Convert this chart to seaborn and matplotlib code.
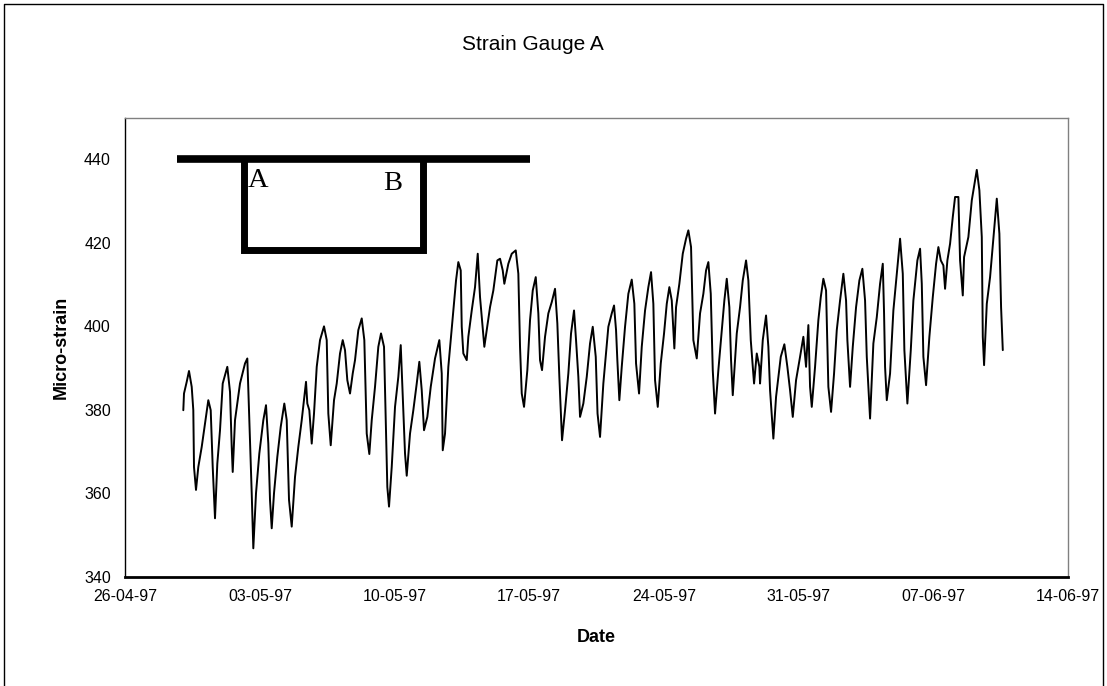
import numpy as np
import pandas as pd
import matplotlib
matplotlib.use("Agg")
import matplotlib.pyplot as plt
import matplotlib.dates as mdates
from matplotlib.lines import Line2D
import seaborn as sns

# ---------------- data ----------------
record_start = "1997-04-26"
elapsed_days = [
    3.016, 3.052, 3.193, 3.312, 3.453, 3.536, 3.572, 3.676, 3.796, 3.973,
    4.144, 4.316, 4.441, 4.545, 4.664, 4.784, 4.924, 5.065, 5.304, 5.444,
    5.533, 5.585, 5.704, 5.964, 6.224, 6.344, 6.448, 6.573, 6.656, 6.796,
    6.968, 7.176, 7.316, 7.436, 7.524, 7.613, 7.732, 7.904, 8.081, 8.268,
    8.393, 8.512, 8.653, 8.824, 8.996, 9.173, 9.396, 9.464, 9.568, 9.693,
    9.812, 9.953, 10.124, 10.332, 10.473, 10.556, 10.681, 10.852, 10.993, 11.164,
    11.305, 11.424, 11.544, 11.684, 11.825, 11.944, 12.116, 12.293, 12.428, 12.553,
    12.688, 12.813, 12.984, 13.156, 13.296, 13.452, 13.556, 13.624, 13.712, 13.853,
    14.024, 14.196, 14.321, 14.425, 14.544, 14.633, 14.804, 14.976, 15.153, 15.288,
    15.413, 15.532, 15.704, 15.881, 16.104, 16.328, 16.453, 16.505, 16.624, 16.796,
    17.025, 17.196, 17.316, 17.441, 17.493, 17.576, 17.753, 17.836, 18.013, 18.184,
    18.325, 18.444, 18.564, 18.668, 18.793, 18.964, 19.136, 19.344, 19.484, 19.625,
    19.708, 19.916, 20.093, 20.301, 20.436, 20.524, 20.613, 20.732, 20.904, 21.044,
    21.185, 21.341, 21.476, 21.564, 21.668, 21.824, 21.996, 22.173, 22.344, 22.464,
    22.568, 22.708, 22.864, 23.036, 23.176, 23.332, 23.436, 23.556, 23.644, 23.816,
    23.993, 24.164, 24.305, 24.461, 24.554, 24.684, 24.856, 24.996, 25.116, 25.293,
    25.412, 25.516, 25.584, 25.688, 25.813, 25.984, 26.156, 26.333, 26.468, 26.556,
    26.712, 26.853, 27.024, 27.196, 27.336, 27.456, 27.544, 27.685, 27.841, 28.012,
    28.153, 28.288, 28.413, 28.548, 28.636, 28.808, 28.985, 29.156, 29.276, 29.416,
    29.536, 29.713, 29.884, 30.056, 30.196, 30.316, 30.441, 30.545, 30.664, 30.836,
    31.013, 31.148, 31.273, 31.408, 31.496, 31.585, 31.793, 31.964, 32.105, 32.276,
    32.396, 32.521, 32.692, 32.833, 32.968, 33.004, 33.145, 33.316, 33.436, 33.524,
    33.696, 33.836, 33.956, 34.081, 34.268, 34.424, 34.564, 34.705, 34.876, 35.084,
    35.256, 35.396, 35.516, 35.604, 35.693, 35.864, 36.036, 36.161, 36.296, 36.436,
    36.556, 36.696, 36.852, 36.993, 37.164, 37.336, 37.476, 37.544, 37.684, 37.825,
    37.996, 38.168, 38.324, 38.464, 38.553, 38.724, 38.896, 39.073, 39.244, 39.385,
    39.452, 39.504, 39.593, 39.764, 39.936, 40.113, 40.284, 40.425, 40.508, 40.664,
    40.841, 40.976, 41.184, 41.324, 41.413, 41.496, 41.636, 41.808, 41.985, 42.156,
    42.276, 42.401, 42.536, 42.624, 42.744, 42.884, 43.025, 43.144, 43.316, 43.404,
    43.545, 43.612, 43.836, 44.013, 44.184, 44.273, 44.408, 44.533, 44.585, 44.652,
    44.793, 44.964, 45.172, 45.313, 45.448, 45.536, 45.625,
]
micro_strain = [
    379.9, 383.9, 386.7, 389.3, 385.5, 379.9, 366.3, 360.8, 366.3, 371.1,
    376.7, 382.3, 379.9, 366.3, 354.0, 367.1, 375.1, 386.3, 390.3, 384.3,
    371.1, 365.1, 377.5, 386.3, 391.1, 392.3, 377.5, 360.0, 346.8, 360.0,
    369.5, 377.5, 381.1, 371.9, 358.4, 351.6, 360.0, 368.7, 375.9, 381.5,
    377.5, 358.4, 352.0, 363.9, 371.1, 377.5, 386.7, 381.5, 379.9, 371.9,
    379.1, 390.3, 396.7, 400.0, 396.7, 379.1, 371.5, 382.3, 386.3, 393.5,
    396.7, 394.3, 387.1, 383.9, 388.7, 391.9, 399.1, 401.9, 396.7, 374.3,
    369.4, 377.5, 385.5, 395.1, 398.3, 395.1, 374.3, 361.5, 356.8, 366.3,
    380.7, 387.9, 395.5, 383.1, 369.5, 364.2, 374.3, 379.9, 386.3, 391.5,
    384.7, 375.1, 378.3, 385.5, 392.3, 396.7, 388.7, 370.3, 374.3, 390.3,
    402.2, 411.0, 415.4, 413.4, 399.9, 393.5, 391.9, 397.5, 403.8, 409.4,
    417.4, 407.0, 400.7, 395.1, 399.1, 404.6, 408.6, 415.8, 416.2, 413.4,
    410.2, 415.0, 417.4, 418.2, 412.6, 395.1, 383.9, 380.7, 389.5, 401.5,
    408.6, 411.8, 403.1, 391.9, 389.5, 397.5, 403.1, 405.8, 409.0, 400.7,
    387.9, 372.7, 379.9, 388.7, 398.3, 403.8, 396.7, 387.9, 378.3, 381.5,
    387.9, 395.9, 399.9, 392.7, 379.1, 373.5, 386.3, 393.5, 399.9, 403.1,
    405.0, 399.1, 391.9, 382.3, 390.3, 399.9, 407.8, 411.2, 405.4, 391.1,
    383.9, 395.1, 403.8, 409.4, 413.0, 405.4, 387.1, 380.7, 391.1, 398.3,
    405.4, 409.4, 406.2, 394.7, 404.6, 410.2, 417.4, 421.0, 423.0, 419.0,
    396.7, 392.3, 403.1, 407.8, 413.4, 415.4, 407.8, 389.5, 379.1, 389.5,
    399.1, 406.2, 411.4, 404.6, 391.9, 383.5, 398.3, 404.6, 411.0, 415.8,
    411.0, 396.7, 386.3, 393.5, 390.3, 386.3, 396.7, 402.6, 395.1, 384.7,
    373.1, 383.1, 387.9, 392.7, 395.7, 390.3, 384.7, 378.3, 387.1, 392.7,
    397.5, 390.3, 400.3, 385.5, 380.7, 390.3, 401.5, 407.0, 411.4, 408.6,
    385.5, 379.5, 388.7, 399.1, 406.2, 412.6, 406.2, 396.7, 385.5, 395.1,
    404.6, 411.0, 413.8, 406.2, 392.7, 377.9, 395.9, 402.2, 410.2, 415.0,
    403.1, 390.3, 382.3, 388.7, 403.8, 412.6, 421.0, 412.6, 394.3, 381.5,
    394.3, 406.2, 415.8, 418.6, 410.2, 392.7, 385.9, 397.5, 407.0, 415.0,
    419.0, 415.8, 414.6, 409.0, 415.8, 419.8, 426.2, 431.0, 431.0, 415.8,
    407.4, 416.6, 421.4, 430.2, 435.0, 437.5, 432.6, 421.4, 397.5, 390.7,
    405.4, 411.8, 423.0, 430.6, 422.2, 404.6, 394.3,
]

x_tick_dates = ["1997-04-26", "1997-05-03", "1997-05-10", "1997-05-17",
                "1997-05-24", "1997-05-31", "1997-06-07", "1997-06-14"]
y_tick_values = [340, 360, 380, 400, 420, 440]
y_limits = [340, 450]

title_text = "Strain Gauge A"
x_label = "Date"
y_label = "Micro-strain"

# sketch of the gauge layout drawn on the chart (days since record_start, micro-strain)
beam_days = [2.67, 21.04]
beam_level = 440
frame_days = [6.19, 6.19, 15.5, 15.5]
frame_levels = [440, 418.3, 418.3, 440]
label_a = ("A", 6.344, 433.5)
label_b = ("B", 13.385, 432.7)

# ---------------- build data frame ----------------
t0 = pd.Timestamp(record_start)
df = pd.DataFrame({
    "Date": t0 + pd.to_timedelta(elapsed_days, unit="D"),
    "Micro-strain": micro_strain,
})

# ---------------- plot ----------------
sns.set_theme(style="white")
plt.rcParams["font.family"] = ["Liberation Sans", "DejaVu Sans"]

W, H = 1107, 686
fig = plt.figure(figsize=(W / 100, H / 100), dpi=100)
ax = fig.add_axes([125.3 / W, 1 - 576.7 / H, (1067.7 - 125.3) / W, (576.7 - 117.7) / H])

sns.lineplot(data=df, x="Date", y="Micro-strain", ax=ax, color="black",
             linewidth=1.4, estimator=None, sort=False)

# gauge sketch
def d2t(d):
    return t0 + pd.to_timedelta(d, unit="D")

ax.plot([d2t(d) for d in beam_days], [beam_level, beam_level], color="black",
        linewidth=5.5, solid_capstyle="butt", zorder=3)
ax.plot([d2t(d) for d in frame_days], frame_levels, color="black",
        linewidth=5.0, solid_joinstyle="miter", solid_capstyle="butt", zorder=3)
for txt, d, v in (label_a, label_b):
    ax.text(d2t(d), v, txt, family=["Liberation Serif", "DejaVu Serif"],
            fontsize=20.5, ha="left", va="baseline", color="black", zorder=4)

# axes formatting
ax.set_xlim(pd.Timestamp(x_tick_dates[0]), pd.Timestamp(x_tick_dates[-1]))
ax.set_ylim(*y_limits)
ax.set_xticks([pd.Timestamp(s) for s in x_tick_dates])
ax.xaxis.set_major_formatter(mdates.DateFormatter("%d-%m-%y"))
ax.set_yticks(y_tick_values)

ax.tick_params(axis="both", which="major", direction="out", length=3.6,
               width=0.8, color="black", labelsize=11.5, labelcolor="black")
ax.tick_params(axis="y", pad=6.8)
ax.tick_params(axis="x", pad=5.0)

ax.set_xlabel(x_label, fontsize=13, fontweight="bold", color="black")
ax.set_ylabel(y_label, fontsize=13, fontweight="bold", color="black")
ax.xaxis.set_label_coords((596 - 125.3) / 942.4, -(637 - 576.7) / 459.0)
ax.yaxis.set_label_coords((61 - 125.3) / 942.4, 0.5)
ax.xaxis.label.set_va("center")
ax.yaxis.label.set_va("center")

for side in ("top", "right"):
    ax.spines[side].set_color("#808080")
    ax.spines[side].set_linewidth(1.0)
ax.spines["left"].set_color("black")
ax.spines["left"].set_linewidth(1.0)
ax.spines["bottom"].set_color("black")
ax.spines["bottom"].set_linewidth(2.0)
ax.grid(False)
ax.set_facecolor("white")

fig.text(533 / W, 1 - 45 / H, title_text, ha="center", va="center",
         fontsize=15, color="black")

# chart-area frame
bx_l, bx_r, bx_t = 4 / W, 1103 / W, 1 - 4 / H
fig.add_artist(Line2D([bx_l, bx_l, bx_r, bx_r], [0, bx_t, bx_t, 0],
                      transform=fig.transFigure, color="black", linewidth=1.0))

fig.savefig("out.png", dpi=100, facecolor="white")
